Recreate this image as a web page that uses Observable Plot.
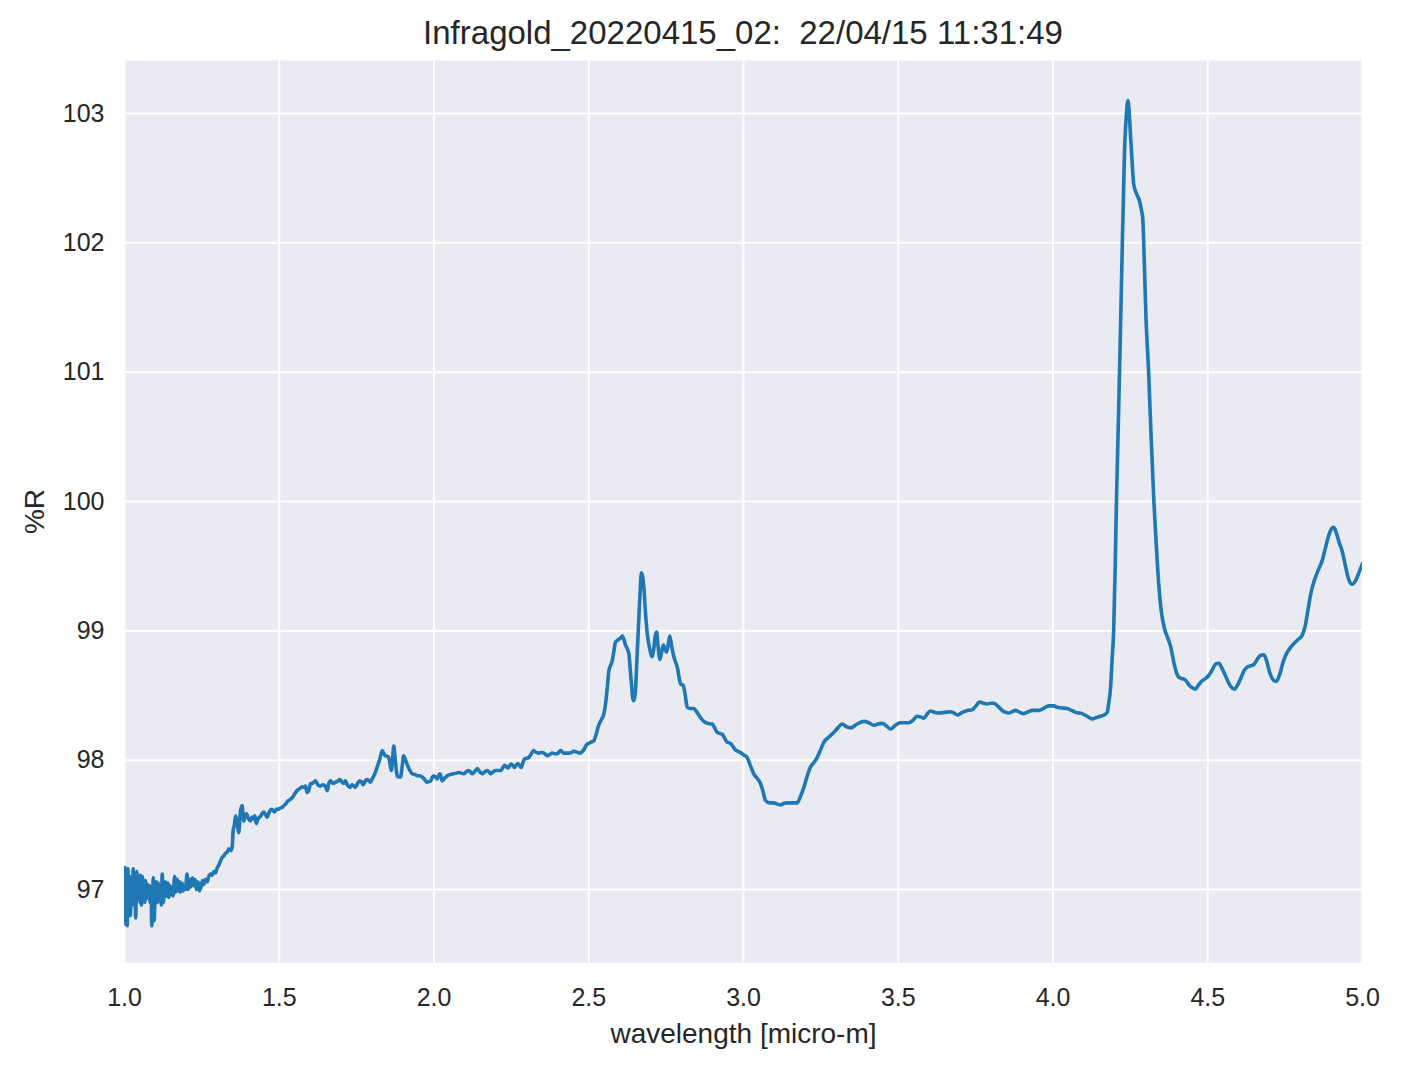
<!DOCTYPE html>
<html><head><meta charset="utf-8">
<script src="https://cdn.jsdelivr.net/npm/d3@7"></script>
<script src="https://cdn.jsdelivr.net/npm/@observablehq/plot@0.6"></script>
<style>
body{margin:0;background:#fff;font-family:"Liberation Sans",Arial,sans-serif;}
#title{height:60px;box-sizing:border-box;padding-left:124px;padding-right:40px;text-align:center;font-size:33px;line-height:66px;color:#262626;white-space:pre;overflow:visible;}
#chart svg{display:block;}
</style></head><body>
<div id="title"></div>
<div id="chart"></div>
<script>
const titleText = "Infragold_20220415_02:  22/04/15 11:31:49";
const xLabel = "wavelength [micro-m]";
const yLabel = "%R";
const xTicks = [1.0, 1.5, 2.0, 2.5, 3.0, 3.5, 4.0, 4.5, 5.0];
const yTicks = [97, 98, 99, 100, 101, 102, 103];

const wavelength = [
1.000,1.002,1.004,1.007,1.009,1.011,1.014,1.017,1.019,1.022,1.025,1.028,1.031,1.034,1.036,1.040,1.043,1.047,1.050,1.052,
1.055,1.058,1.060,1.063,1.066,1.068,1.071,1.074,1.076,1.080,1.083,1.086,1.088,1.091,1.093,1.096,1.099,1.103,1.106,1.109,
1.111,1.115,1.119,1.122,1.125,1.129,1.132,1.135,1.140,1.143,1.147,1.150,1.154,1.157,1.162,1.165,1.170,1.173,1.178,1.181,
1.186,1.190,1.194,1.197,1.202,1.206,1.210,1.214,1.219,1.223,1.228,1.232,1.238,1.242,1.246,1.252,1.256,1.262,1.267,1.272,
1.278,1.283,1.289,1.294,1.300,1.305,1.310,1.316,1.321,1.326,1.332,1.337,1.343,1.348,1.351,1.355,1.359,1.364,1.369,1.375,
1.380,1.385,1.390,1.394,1.400,1.407,1.412,1.416,1.421,1.426,1.432,1.437,1.443,1.450,1.456,1.461,1.468,1.474,1.480,1.485,
1.490,1.495,1.503,1.510,1.515,1.520,1.526,1.531,1.537,1.542,1.550,1.558,1.566,1.574,1.579,1.585,1.590,1.596,1.601,1.606,
1.612,1.617,1.625,1.633,1.641,1.649,1.655,1.660,1.666,1.674,1.682,1.690,1.696,1.703,1.709,1.714,1.720,1.728,1.735,1.741,
1.746,1.753,1.760,1.766,1.771,1.778,1.784,1.790,1.795,1.801,1.806,1.811,1.816,1.824,1.833,1.838,1.843,1.849,1.854,1.858,
1.862,1.866,1.870,1.875,1.881,1.886,1.892,1.897,1.902,1.908,1.913,1.920,1.930,1.938,1.946,1.954,1.962,1.970,1.976,1.983,
1.989,1.995,1.999,2.005,2.010,2.015,2.019,2.023,2.026,2.034,2.043,2.054,2.064,2.072,2.080,2.088,2.096,2.104,2.112,2.118,
2.123,2.131,2.140,2.148,2.156,2.164,2.172,2.178,2.183,2.191,2.199,2.207,2.215,2.222,2.228,2.234,2.239,2.244,2.249,2.255,
2.260,2.265,2.271,2.276,2.282,2.287,2.292,2.299,2.306,2.314,2.322,2.330,2.339,2.345,2.350,2.358,2.366,2.374,2.382,2.390,
2.398,2.404,2.409,2.414,2.419,2.428,2.436,2.444,2.452,2.457,2.465,2.473,2.480,2.484,2.490,2.495,2.500,2.507,2.516,2.525,
2.532,2.540,2.549,2.555,2.560,2.565,2.570,2.576,2.581,2.586,2.594,2.603,2.608,2.614,2.619,2.625,2.630,2.634,2.638,2.641,
2.644,2.648,2.651,2.656,2.662,2.666,2.670,2.674,2.678,2.683,2.689,2.697,2.705,2.710,2.715,2.719,2.724,2.730,2.735,2.741,
2.746,2.751,2.756,2.762,2.768,2.775,2.786,2.797,2.805,2.812,2.818,2.828,2.839,2.850,2.861,2.872,2.883,2.899,2.907,2.915,
2.926,2.931,2.947,2.958,2.974,2.990,3.001,3.012,3.022,3.033,3.044,3.055,3.063,3.071,3.085,3.098,3.110,3.120,3.130,3.141,
3.157,3.173,3.184,3.195,3.205,3.216,3.227,3.238,3.249,3.260,3.276,3.292,3.305,3.319,3.332,3.346,3.367,3.389,3.405,3.421,
3.434,3.448,3.462,3.475,3.491,3.507,3.520,3.534,3.548,3.561,3.572,3.583,3.594,3.604,3.618,3.631,3.650,3.669,3.680,3.692,
3.707,3.723,3.739,3.751,3.763,3.775,3.787,3.798,3.809,3.825,3.841,3.857,3.868,3.879,3.893,3.906,3.920,3.933,3.954,3.970,
3.986,4.003,4.013,4.024,4.046,4.060,4.073,4.094,4.110,4.127,4.140,4.153,4.165,4.175,4.180,4.186,4.191,4.196,4.201,4.205,
4.210,4.215,4.220,4.224,4.228,4.231,4.236,4.242,4.246,4.250,4.255,4.261,4.270,4.280,4.286,4.290,4.295,4.300,4.309,4.317,
4.326,4.334,4.342,4.350,4.360,4.370,4.380,4.390,4.400,4.407,4.418,4.428,4.440,4.450,4.460,4.470,4.480,4.492,4.503,4.515,
4.526,4.536,4.546,4.557,4.567,4.578,4.586,4.596,4.606,4.617,4.627,4.638,4.649,4.660,4.670,4.681,4.690,4.700,4.712,4.722,
4.732,4.745,4.757,4.767,4.778,4.790,4.805,4.815,4.825,4.834,4.843,4.857,4.870,4.880,4.890,4.900,4.907,4.915,4.925,4.934,
4.945,4.955,4.967,4.978,4.990,5.000
];

const reflectance = [
97.05,97.17,96.73,97.12,96.72,97.16,96.80,97.10,96.80,97.05,96.88,97.16,96.90,97.13,96.78,97.14,96.93,97.10,96.90,97.11,
96.88,97.10,96.95,97.06,96.90,97.07,96.93,97.04,96.98,97.03,96.90,97.02,96.72,96.95,97.09,96.76,97.00,97.06,96.90,97.05,
96.93,97.00,96.88,97.12,96.90,97.00,97.06,96.95,97.05,96.94,97.03,96.96,97.02,96.95,97.10,96.98,97.08,96.99,97.06,96.98,
97.05,96.99,97.03,97.00,97.12,97.00,97.08,97.02,97.09,97.03,97.08,97.00,97.06,96.99,97.01,97.07,97.04,97.08,97.06,97.10,
97.12,97.11,97.14,97.13,97.17,97.19,97.22,97.25,97.26,97.28,97.29,97.315,97.30,97.33,97.455,97.50,97.57,97.51,97.44,97.61,
97.65,97.53,97.57,97.585,97.55,97.53,97.56,97.545,97.57,97.51,97.55,97.56,97.58,97.60,97.58,97.56,97.60,97.62,97.61,97.60,
97.62,97.62,97.63,97.635,97.65,97.66,97.68,97.69,97.70,97.71,97.74,97.765,97.78,97.795,97.79,97.80,97.75,97.77,97.82,97.82,
97.83,97.84,97.81,97.80,97.81,97.80,97.765,97.82,97.84,97.82,97.83,97.84,97.85,97.83,97.82,97.84,97.81,97.79,97.81,97.80,
97.79,97.82,97.84,97.83,97.81,97.84,97.85,97.84,97.83,97.86,97.88,97.91,97.945,98.00,98.075,98.05,98.035,98.03,98.02,97.97,
97.92,98.00,98.11,98.00,97.88,97.87,97.87,97.95,98.035,98.00,97.97,97.93,97.895,97.89,97.88,97.88,97.87,97.85,97.83,97.835,
97.84,97.87,97.88,97.87,97.855,97.88,97.895,97.87,97.84,97.86,97.88,97.89,97.895,97.90,97.905,97.90,97.895,97.91,97.92,97.91,
97.895,97.91,97.935,97.91,97.895,97.91,97.92,97.91,97.895,97.91,97.92,97.92,97.92,97.94,97.96,97.95,97.94,97.955,97.97,97.96,
97.945,97.96,97.975,97.96,97.945,97.98,98.01,98.015,98.02,98.05,98.075,98.06,98.055,98.06,98.06,98.05,98.035,98.045,98.055,98.05,
98.05,98.065,98.075,98.065,98.055,98.055,98.055,98.06,98.07,98.065,98.06,98.055,98.07,98.08,98.11,98.125,98.13,98.14,98.15,98.21,
98.27,98.31,98.36,98.45,98.565,98.69,98.73,98.77,98.84,98.91,98.93,98.945,98.96,98.93,98.89,98.86,98.82,98.70,98.59,98.50,
98.46,98.48,98.54,98.80,99.105,99.30,99.45,99.42,99.34,99.15,98.98,98.86,98.80,98.86,98.96,98.99,98.88,98.78,98.83,98.89,
98.86,98.835,98.88,98.96,98.88,98.80,98.72,98.59,98.58,98.50,98.41,98.40,98.40,98.37,98.33,98.30,98.285,98.28,98.25,98.215,
98.205,98.20,98.14,98.13,98.08,98.06,98.04,98.02,97.96,97.895,97.86,97.82,97.76,97.69,97.67,97.67,97.66,97.655,97.665,97.67,
97.67,97.67,97.72,97.79,97.87,97.945,97.98,98.02,98.08,98.14,98.18,98.216,98.25,98.28,98.26,98.25,98.28,98.30,98.29,98.27,
98.28,98.285,98.265,98.24,98.27,98.29,98.29,98.29,98.31,98.34,98.335,98.325,98.36,98.38,98.37,98.365,98.37,98.375,98.365,98.35,
98.37,98.385,98.39,98.42,98.45,98.44,98.435,98.44,98.44,98.41,98.375,98.365,98.375,98.385,98.37,98.36,98.375,98.385,98.385,98.40,
98.42,98.42,98.41,98.405,98.40,98.385,98.37,98.36,98.34,98.32,98.33,98.34,98.35,98.37,98.44,98.56,98.78,99.00,99.50,100.00,
100.50,101.00,101.55,102.00,102.40,102.70,102.95,103.10,103.02,102.85,102.65,102.45,102.38,102.32,102.25,102.19,101.85,101.45,101.00,100.50,
100.00,99.65,99.35,99.15,99.02,98.95,98.88,98.76,98.67,98.64,98.63,98.62,98.58,98.56,98.55,98.58,98.61,98.63,98.655,98.70,
98.745,98.75,98.71,98.655,98.60,98.56,98.55,98.58,98.63,98.69,98.72,98.73,98.74,98.78,98.81,98.815,98.77,98.68,98.62,98.61,
98.66,98.77,98.835,98.87,98.90,98.93,98.965,99.04,99.18,99.30,99.38,99.47,99.545,99.64,99.73,99.79,99.80,99.76,99.68,99.62,
99.50,99.40,99.36,99.39,99.46,99.52
];

document.getElementById("title").textContent = titleText;

const data = wavelength.map((w, i) => ({w, r: reflectance[i]}));

const plot = Plot.plot({
  width: 1402,
  height: 1009,
  marginTop: 0,
  marginLeft: 124,
  marginRight: 40,
  marginBottom: 107,
  style: {fontFamily: "'Liberation Sans', Arial, sans-serif", fontSize: "26px", color: "#262626", background: "white", overflow: "visible"},
  x: {domain: [1, 5]},
  y: {domain: [96.436, 103.41]},
  marks: [
    Plot.frame({fill: "#EAEAF2", stroke: null}),
    Plot.gridX(xTicks, {stroke: "white", strokeOpacity: 1, strokeWidth: 2}),
    Plot.gridY(yTicks, {stroke: "white", strokeOpacity: 1, strokeWidth: 2}),
    Plot.axisX(xTicks, {tickSize: 0, tickPadding: 26, tickFormat: d => d.toFixed(1), fontSize: 25, label: null}),
    Plot.axisX({tickSize: 0, ticks: [], fontSize: 28,
      label: xLabel, labelAnchor: "center", labelOffset: 80, labelArrow: "none"}),
    Plot.axisY(yTicks, {tickSize: 0, tickPadding: 20, tickFormat: d => String(d), fontSize: 25, label: null}),
    Plot.axisY({tickSize: 0, ticks: [], fontSize: 28,
      label: yLabel, labelAnchor: "center", labelOffset: 100, labelArrow: "none"}),
    Plot.lineY(data, {x: "w", y: "r", stroke: "#1f77b4", strokeWidth: 3.6, curve: "monotone-x", clip: true})
  ]
});
document.getElementById("chart").appendChild(plot);
</script>
</body></html>
